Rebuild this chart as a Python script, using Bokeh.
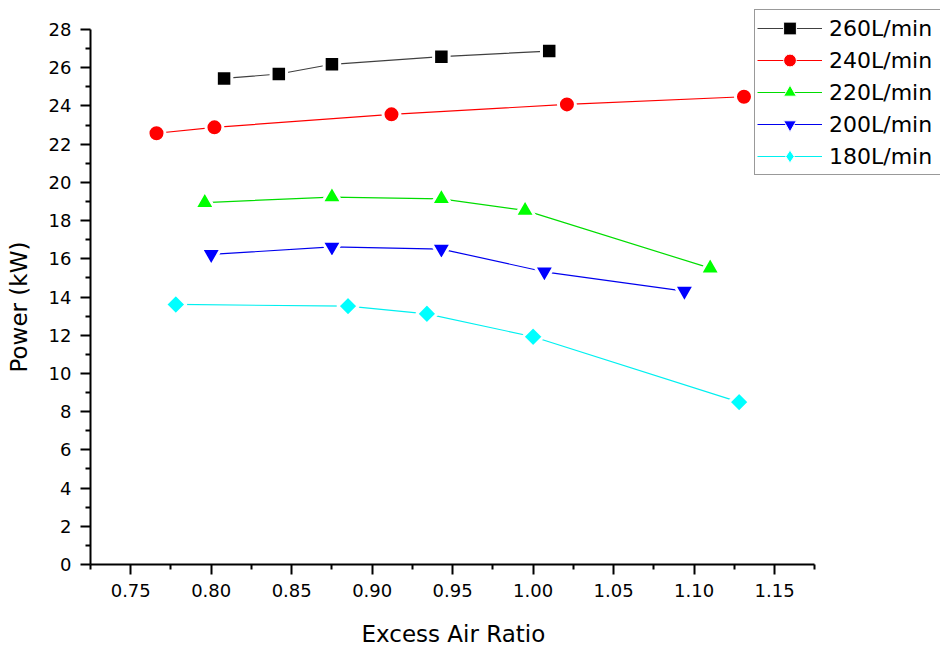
import math

from bokeh.embed import file_html
from bokeh.models import FixedTicker, Legend, LegendItem, LinearAxis, Range1d, Title
from bokeh.plotting import figure
from bokeh.resources import INLINE

# Excess air ratio vs. output power for five fuel flow rates
ratio_260 = [0.808, 0.842, 0.875, 0.943, 1.010]
power_260 = [25.44, 25.67, 26.18, 26.58, 26.87]

ratio_240 = [0.766, 0.802, 0.912, 1.021, 1.131]
power_240 = [22.57, 22.88, 23.56, 24.08, 24.48]

ratio_220 = [0.796, 0.875, 0.943, 0.995, 1.110]
power_220 = [18.94, 19.23, 19.14, 18.53, 15.51]

ratio_200 = [0.800, 0.875, 0.943, 1.007, 1.094]
power_200 = [16.23, 16.62, 16.51, 15.32, 14.31]

ratio_180 = [0.778, 0.885, 0.934, 1.000, 1.128]
power_180 = [13.61, 13.52, 13.12, 11.92, 8.50]

series_labels = ["260L/min", "240L/min", "220L/min", "200L/min", "180L/min"]

x_major = [0.75, 0.80, 0.85, 0.90, 0.95, 1.00, 1.05, 1.10, 1.15]
x_minor = [0.725, 0.775, 0.825, 0.875, 0.925, 0.975, 1.025, 1.075, 1.125, 1.175]
y_major = list(range(0, 29, 2))
y_minor = list(range(1, 28, 2))

# axis extents; the plotting area runs further right and up to make room for the key
X_AXIS = (0.725, 1.175)
Y_AXIS = (0, 28)

FONT = "DejaVu Sans"

p = figure(
    width=940,
    height=651,
    x_range=Range1d(0.725, 1.2531),
    y_range=Range1d(0, 29.518),
    output_backend="svg",
    toolbar_location=None,
    min_border_left=90,
    min_border_right=0,
    min_border_top=0,
    min_border_bottom=87,
)
p.outline_line_color = None
p.xgrid.visible = False
p.ygrid.visible = False
p.background_fill_color = "white"
p.border_fill_color = "white"

p.xaxis.bounds = X_AXIS
p.yaxis.bounds = Y_AXIS
p.xaxis.ticker = FixedTicker(ticks=x_major, minor_ticks=x_minor)
p.yaxis.ticker = FixedTicker(ticks=y_major, minor_ticks=y_minor)
p.xaxis.major_label_overrides = {v: f"{v:.2f}" for v in x_major}
p.yaxis.major_label_overrides = {v: str(v) for v in y_major}

for ax in (p.xaxis, p.yaxis):
    ax.axis_line_width = 2
    ax.axis_line_color = "black"
    ax.major_tick_line_width = 2
    ax.minor_tick_line_width = 2
    ax.major_tick_line_color = "black"
    ax.minor_tick_line_color = "black"
    ax.major_tick_in = 0
    ax.major_tick_out = 10
    ax.minor_tick_in = 0
    ax.minor_tick_out = 5
    ax.major_label_text_font = FONT
    ax.major_label_text_font_size = "18px"
    ax.major_label_text_color = "black"

p.xaxis.major_label_standoff = 9
p.yaxis.major_label_standoff = 9


def spacer(gap, tick):
    """A blank axis that only reserves `gap` pixels in a side panel."""
    return LinearAxis(
        ticker=FixedTicker(ticks=[tick], minor_ticks=[]),
        axis_line_color=None,
        major_tick_line_color="white",
        major_tick_line_width=1,
        minor_tick_line_color=None,
        major_tick_in=0,
        major_tick_out=gap,
        minor_tick_in=0,
        minor_tick_out=0,
        major_label_overrides={tick: ""},
        major_label_text_font_size="1px",
        major_label_standoff=0,
    )


# axis titles, placed along the drawn part of each axis
p.add_layout(spacer(21, 1.25), "below")
p.add_layout(
    Title(
        text="Excess Air Ratio", align="left", offset=271, vertical_align="top",
        standoff=0, text_font=FONT, text_font_size="23px",
        text_font_style="normal", text_color="black",
    ),
    "below",
)
p.add_layout(spacer(12, 29.4), "left")
p.add_layout(
    Title(
        text="Power (kW)", align="left", offset=192, vertical_align="top",
        standoff=0, text_font=FONT, text_font_size="23px",
        text_font_style="normal", text_color="black",
    ),
    "left",
)

series = [
    (ratio_260, power_260, "black", "#404040", "square", 15.5, 0.0),
    (ratio_240, power_240, "#FF0000", "#FF0000", "circle", 17.0, 0.0),
    (ratio_220, power_220, "#00FF00", "#00DD00", "triangle", 20.0, 0.0),
    (ratio_200, power_200, "#0000FF", "#0000EE", "inverted_triangle", 20.0, 0.0),
    (ratio_180, power_180, "#00FFFF", "#00F0F0", "square", 14.5, math.pi / 4),
]
legend_markers = ["square", "circle", "triangle", "inverted_triangle", "diamond"]

items = []
for (xs, ys, fill, line_col, marker, size, angle), label, lm in zip(
    series, series_labels, legend_markers
):
    ln = p.line(xs, ys, line_color=line_col, line_width=1.2)
    p.scatter(
        xs, ys, marker=marker, size=size, angle=angle,
        fill_color=fill, line_color="white", line_width=3,
    )
    # key glyph for the legend (no visible points of its own)
    key = p.scatter(
        [float("nan")], [float("nan")], marker=lm,
        size=10, fill_color=fill, line_color="white", line_width=1.0,
    )
    items.append(LegendItem(label=label, renderers=[ln, key]))

legend = Legend(
    items=items,
    location=(664, 389),
    orientation="vertical",
    glyph_width=65,
    glyph_height=32,
    label_height=32,
    label_width=112,
    spacing=0,
    padding=2,
    margin=0,
    label_standoff=7,
    label_text_font=FONT,
    label_text_font_size="22px",
    label_text_color="black",
    label_text_baseline="middle",
    border_line_color="#333333",
    border_line_width=1.5,
    background_fill_color="white",
    background_fill_alpha=1.0,
)
p.add_layout(legend, "center")

open("out.html", "w").write(file_html(p, INLINE))
